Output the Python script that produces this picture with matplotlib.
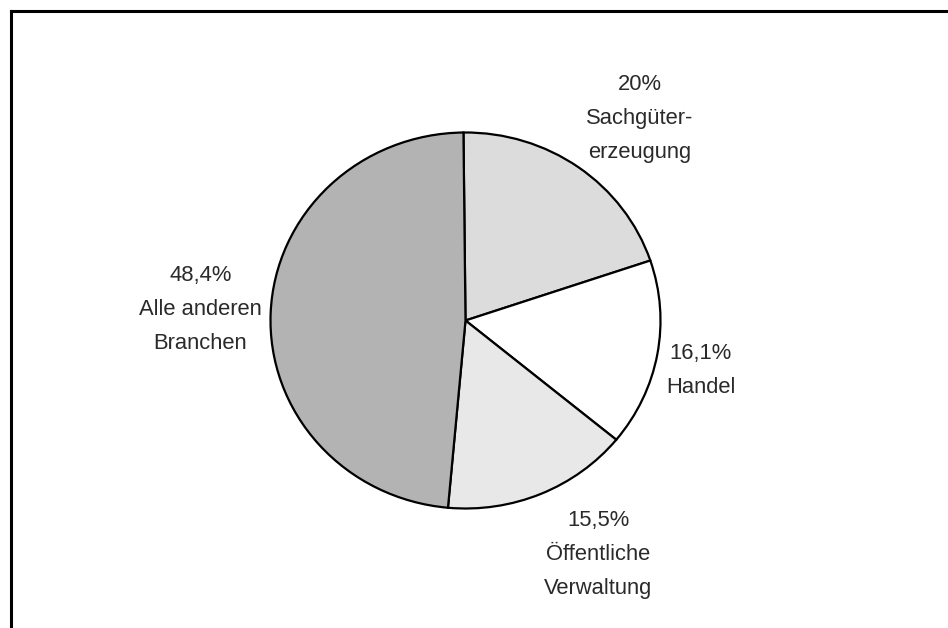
import matplotlib.pyplot as plt
from matplotlib.lines import Line2D

# employment share by sector (percent)
sectors = ["Sachgüter-\nerzeugung", "Handel", "Öffentliche\nVerwaltung", "Alle anderen\nBranchen"]
shares = [20.0, 16.1, 15.5, 48.4]
share_labels = ["20%", "16,1%", "15,5%", "48,4%"]
colors = ["#dcdcdc", "#ffffff", "#e8e8e8", "#b3b3b3"]

# label anchor points, in pie radius units
label_pos = [(0.895, 1.075), (1.205, -0.265), (0.68, -1.245), (-1.36, 0.06)]

W, H = 948, 628
fig = plt.figure(figsize=(W / 100, H / 100), dpi=100)
fig.patch.set_facecolor("white")

# frame lines: only top and left edges fall inside the image
fig.add_artist(Line2D([10.5 / W, 1.0], [1 - 10.5 / H, 1 - 10.5 / H],
                      transform=fig.transFigure, color="black", linewidth=2.2,
                      solid_capstyle="projecting"))
fig.add_artist(Line2D([11 / W, 11 / W], [0.0, 1 - 10.5 / H],
                      transform=fig.transFigure, color="black", linewidth=2.2,
                      solid_capstyle="projecting"))

cx, cy = 465.5, 320.5   # pie centre in pixels
rx, ry = 195.0, 188.0   # pie radii in pixels
ax = fig.add_axes([0, 0, 1, 1])
ax.pie(shares, colors=colors, startangle=90.6, counterclock=False,
       wedgeprops=dict(edgecolor="black", linewidth=1.6))
ax.set_aspect("auto")
ax.set_xlim(-cx / rx, (W - cx) / rx)
ax.set_ylim(-(H - cy) / ry, cy / ry)
ax.axis("off")

for (x, y), pct, name in zip(label_pos, share_labels, sectors):
    ax.text(x, y, pct + "\n" + name, ha="center", va="center",
            fontsize=15.8, family="Liberation Sans", color="#2a2a2a",
            linespacing=1.8)

fig.savefig("out.png", dpi=100)
